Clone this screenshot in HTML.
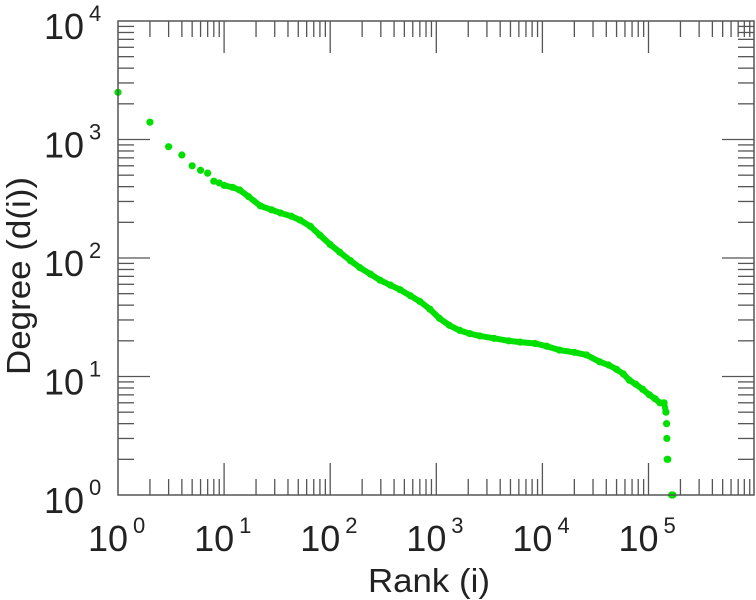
<!DOCTYPE html>
<html><head><meta charset="utf-8">
<style>
html,body{margin:0;padding:0;background:#fff;}
svg{display:block;font-family:"Liberation Sans",sans-serif;}
</style></head>
<body>
<svg id="chart" width="756" height="600" viewBox="0 0 756 600" xmlns="http://www.w3.org/2000/svg">
<g id="ticks"></g>
<g id="series"></g>
<rect x="118" y="21" width="636" height="474" fill="none" stroke="#555" stroke-width="1.5"/>
<g id="labels"></g>
<text x="429" y="592" font-size="33" text-anchor="middle" fill="#222" textLength="122" lengthAdjust="spacingAndGlyphs">Rank (i)</text>
<text transform="translate(30,276) rotate(-90)" font-size="33" text-anchor="middle" fill="#222" textLength="198" lengthAdjust="spacingAndGlyphs">Degree (d(i))</text>
</svg>
<script>
const xDecades = [0,1,2,3,4,5];
const yDecades = [0,1,2,3,4];
const ranks   = [1,2,3,4,5,6,7,8,9,10,12,14,17,22,28,34,43,52,65,80,100,123,155,190,240,295,370,455,570,700,870,1070,1330,1660,2070,2570,3500,4800,6170,8500,11000,14500,20000,26000,34700,42000,50000,58000,66000,76000,88000,102000,115000,128000,140000,146000,148000,149000,150000,152000,165000,170000];
const degrees = [2500,1400,870,740,600,550,520,445,430,410,395,375,330,275,255,240,225,209,185,156,130,112,95,83,73,65,59,54,48,43,37,31,27,24.5,23,22,21,20,19.5,19,18,16.7,16,15.2,13.3,12.5,11.5,10.5,9.3,8.6,7.8,7,6.5,6,6,5,4,3,2,2,1,1];
const X = v => 118 + Math.log10(v) * 106.1;
const Y = v => 495 - Math.log10(v) * 118.5;
const NS = "http://www.w3.org/2000/svg";
const ticks = document.getElementById('ticks');
const labels = document.getElementById('labels');
const series = document.getElementById('series');
function line(x1,y1,x2,y2){
  const l=document.createElementNS(NS,'line');
  l.setAttribute('x1',x1);l.setAttribute('y1',y1);l.setAttribute('x2',x2);l.setAttribute('y2',y2);
  l.setAttribute('stroke','#555');l.setAttribute('stroke-width','1.3');
  
  
  ticks.appendChild(l);
}
for(let d=0; d<6; d++){
  for(let m=1;m<10;m++){
    const v=Math.pow(10,d)*m; const x=X(v); if(x>754) continue;
    const len = m===1?32:16;
    if(x>119){ line(x,495,x,495-len); line(x,21,x,21+len); }
  }
}
for(let d=0; d<4; d++){
  for(let m=1;m<10;m++){
    const v=Math.pow(10,d)*m; const y=Y(v);
    const len = m===1?32:16;
    if(y<494){ line(118,y,118+len,y); line(754,y,754-len,y); }
  }
}
function label(x,y,base,exp,anchorEnd){
  const t=document.createElementNS(NS,'text');
  t.setAttribute('font-size','36');t.setAttribute('fill','#222');
  t.setAttribute('x',x);t.setAttribute('y',y);
  
  
  t.textContent=base;
  labels.appendChild(t);
  const e=document.createElementNS(NS,'text');
  e.setAttribute('font-size','22');e.setAttribute('fill','#222');
  e.setAttribute('x',x+45);e.setAttribute('y',y-18);
  
  
  e.textContent=exp;
  labels.appendChild(e);
}
xDecades.forEach(d=>label(X(Math.pow(10,d))-30,551,'10',String(d)));
yDecades.forEach(d=>label(44,Y(Math.pow(10,d))+18,'10',String(d)));
// connecting band for dense region
let pts=ranks.map((r,i)=>X(r)+','+Y(degrees[i])).slice(9,56).join(' ');
const pl=document.createElementNS(NS,'polyline');
pl.setAttribute('points',pts);pl.setAttribute('fill','none');pl.setAttribute('stroke','#00e000');
pl.setAttribute('stroke-width','6');pl.setAttribute('stroke-linejoin','round');


series.appendChild(pl);
ranks.forEach((r,i)=>{
  const c=document.createElementNS(NS,'circle');
  c.setAttribute('cx',X(r));c.setAttribute('cy',Y(degrees[i]));c.setAttribute('r','3.6');
  c.setAttribute('fill','#00e000');
  
  
  series.appendChild(c);
});
</script>
</body></html>
